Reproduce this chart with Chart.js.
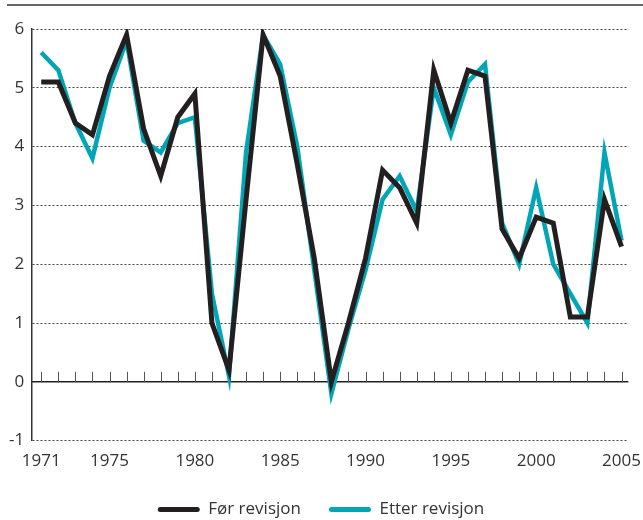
<!DOCTYPE html>
<html>
<head>
<meta charset="utf-8">
<script src="https://cdn.jsdelivr.net/npm/chart.js@4.4.1/dist/chart.umd.min.js"></script>
<style>
  html, body { margin: 0; padding: 0; background: #fff; }
  .chart { position: relative; width: 643px; height: 520px; }
</style>
</head>
<body>
<div class="chart"><canvas></canvas></div>
<script>
const years = [];
for (let y = 1971; y <= 2005; y++) years.push(y);
const yearLabels = [1971, 1975, 1980, 1985, 1990, 1995, 2000, 2005];

const forRevisjon = [
  5.1, 5.1, 4.4, 4.2, 5.2, 5.9, 4.3, 3.5, 4.5, 4.9,
  1.0, 0.2, 3.1, 5.9, 5.2, 3.7, 2.1, 0.0, 1.0, 2.1,
  3.6, 3.3, 2.7, 5.3, 4.4, 5.3, 5.2, 2.6, 2.1, 2.8,
  2.7, 1.1, 1.1, 3.1, 2.3,
];
const etterRevisjon = [
  5.6, 5.3, 4.4, 3.8, 5.0, 5.8, 4.1, 3.9, 4.4, 4.5,
  1.5, 0.1, 3.9, 5.9, 5.4, 4.0, 1.9, -0.2, 0.9, 1.9,
  3.1, 3.5, 2.9, 5.0, 4.2, 5.1, 5.4, 2.7, 2.0, 3.3,
  2.0, 1.5, 1.0, 3.9, 2.4,
];

const colors = {
  black: "#231f20",
  cyan: "#00a6b6",
  grid: "#444",
  text: "#333",
};
const font = { family: "'Open Sans', sans-serif", size: 17 };

// top rule, zero line and small upward year ticks
const decorations = {
  id: "decorations",
  beforeDraw(chart) {
    const ctx = chart.ctx;
    ctx.save();
    ctx.strokeStyle = colors.text;
    ctx.lineWidth = 1.5;
    ctx.beginPath();
    ctx.moveTo(7, 5);
    ctx.lineTo(chart.width, 5);
    ctx.stroke();
    ctx.restore();
  },
  beforeDatasetsDraw(chart) {
    const ctx = chart.ctx;
    const x = chart.scales.x;
    const y0 = chart.scales.y.getPixelForValue(0);
    ctx.save();
    ctx.strokeStyle = colors.black;
    ctx.lineWidth = 1.5;
    ctx.beginPath();
    ctx.moveTo(chart.chartArea.left, y0);
    ctx.lineTo(chart.chartArea.right, y0);
    ctx.stroke();
    ctx.lineWidth = 1;
    ctx.strokeStyle = "#555";
    ctx.beginPath();
    years.forEach((yr) => {
      const px = Math.round(x.getPixelForValue(yr)) + 0.5;
      ctx.moveTo(px, y0);
      ctx.lineTo(px, y0 - 10);
    });
    ctx.stroke();
    ctx.restore();
  },
};

new Chart(document.querySelector(".chart canvas").getContext("2d"), {
  type: "line",
  data: {
    datasets: [
      {
        label: "Før revisjon",
        data: years.map((yr, i) => ({ x: yr, y: forRevisjon[i] })),
        borderColor: colors.black,
        backgroundColor: colors.black,
        borderWidth: 5,
        pointRadius: 0,
        tension: 0,
      },
      {
        label: "Etter revisjon",
        data: years.map((yr, i) => ({ x: yr, y: etterRevisjon[i] })),
        borderColor: colors.cyan,
        backgroundColor: colors.cyan,
        borderWidth: 4.5,
        pointRadius: 0,
        tension: 0,
      },
    ],
  },
  options: {
    responsive: true,
    maintainAspectRatio: false,
    animation: false,
    layout: { padding: { top: 29, left: 1, right: 2, bottom: -8 } },
    scales: {
      x: {
        type: "linear",
        min: 1970.47,
        max: 2005.4,
        afterBuildTicks: (scale) => {
          scale.ticks = yearLabels.map((v) => ({ value: v }));
        },
        grid: { display: false },
        border: { display: false },
        ticks: {
          color: colors.text,
          font: font,
          padding: 2,
          maxRotation: 0,
          autoSkip: false,
          callback: (v) => String(v),
        },
      },
      y: {
        min: -1,
        max: 6,
        ticks: { stepSize: 1, color: colors.text, font: font, padding: 8 },
        grid: {
          color: colors.grid,
          lineWidth: 1,
          drawTicks: false,
        },
        border: { display: true, color: colors.text, width: 1.5, dash: [2, 2] },
      },
    },
    plugins: {
      legend: {
        position: "bottom",
        labels: {
          color: colors.text,
          font: font,
          boxWidth: 42,
          boxHeight: 5,
          padding: 28,
          useBorderRadius: true,
          borderRadius: 2.5,
          generateLabels: (chart) =>
            Chart.defaults.plugins.legend.labels
              .generateLabels(chart)
              .map((l) => Object.assign(l, { lineWidth: 0 })),
        },
      },
      tooltip: { enabled: false },
    },
  },
  plugins: [decorations],
});
</script>
</body>
</html>
